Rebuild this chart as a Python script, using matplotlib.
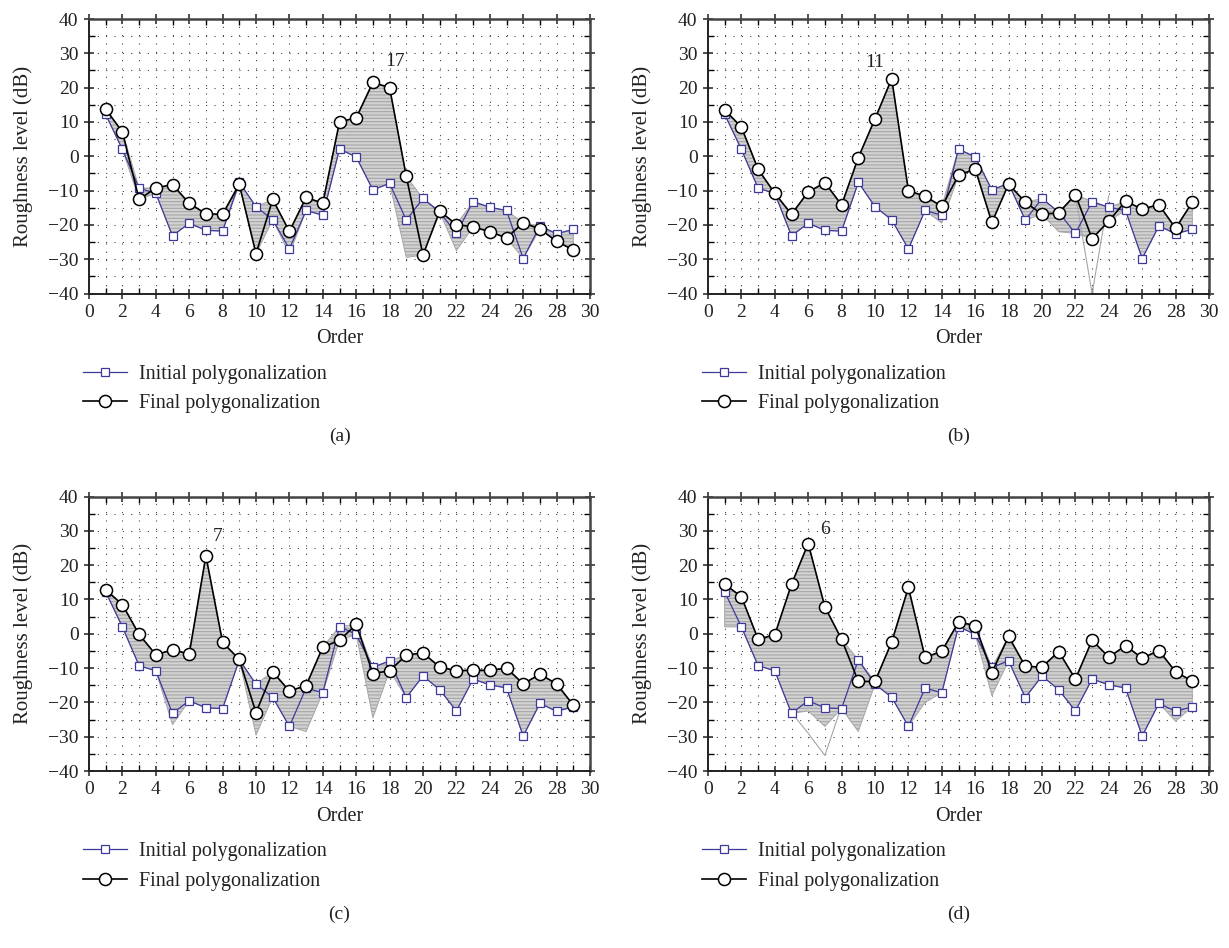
import numpy as np
import matplotlib
matplotlib.use("Agg")
import matplotlib.pyplot as plt
from matplotlib.ticker import MultipleLocator

plt.rcParams['font.family'] = ['Liberation Serif', 'DejaVu Serif']
plt.rcParams['hatch.linewidth'] = 0.8

# Harmonic order axis
order = np.arange(1, 30)

# Roughness levels (dB) of the initial polygonalization (same start for all cases)
initial = [12.2, 2.0, -9.3, -10.8, -23.2, -19.5, -21.6, -21.8, -7.6, -14.7,
           -18.5, -27.0, -15.8, -17.2, 2.1, -0.2, -9.8, -7.9, -18.6, -12.3,
           -16.3, -22.5, -13.2, -14.9, -15.8, -29.8, -20.3, -22.6, -21.3]

# Final polygonalization for each case
final_a = [13.7, 7.1, -12.6, -9.2, -8.3, -13.7, -16.8, -16.9, -8.2, -28.4,
           -12.6, -21.9, -12.0, -13.7, 10.0, 11.2, 21.5, 20.0, -5.9, -28.8,
           -16.0, -19.9, -20.6, -22.0, -23.8, -19.4, -21.2, -24.8, -27.3]
final_b = [13.5, 8.5, -3.8, -10.8, -16.9, -10.4, -7.7, -14.2, -0.4, 10.9,
           22.6, -10.0, -11.7, -14.6, -5.6, -3.7, -19.3, -8.1, -13.4, -16.9,
           -16.5, -11.2, -24.0, -18.9, -13.1, -15.4, -14.1, -21.0, -13.4]
final_c = [12.8, 8.5, -0.2, -6.1, -4.7, -5.9, 22.7, -2.5, -7.5, -23.0,
           -11.1, -16.7, -15.1, -3.9, -1.9, 2.7, -11.6, -10.8, -6.2, -5.6,
           -9.7, -10.8, -10.6, -10.7, -10.0, -14.6, -11.8, -14.6, -20.8]
final_d = [14.4, 10.8, -1.6, -0.3, 14.4, 26.3, 7.8, -1.6, -13.9, -13.9,
           -2.4, 13.5, -6.9, -5.1, 3.4, 2.4, -11.3, -0.8, -9.5, -9.7,
           -5.2, -13.2, -1.9, -6.8, -3.5, -7.1, -4.9, -11.1, -13.8]

# Lowest levels reached by the intermediate iterations where they leave
# the initial/final range: (order, level)
dips_a = [(12, -28.5), (19, -29.5), (22, -27.5)]
dips_b = [(14, -19.5), (21, -22.0)]
dips_c = [(5, -26.5), (10, -29.5), (13, -28.5), (17, -24.5)]
dips_d = [(1, 2.0), (6, -22.5), (7, -27.0), (9, -28.5), (13, -20.0),
          (17, -18.0), (28, -25.5)]

# Single stray iterations drawn as thin lines: (order, level) points
stray_a = []
stray_b = [[(22, -11.2), (23, -40.0), (24, -11.5)]]
stray_c = []
stray_d = [[(5, -23.0), (6, -29.0), (7, -35.5), (8, -21.0)]]

# Iteration counts written above each peak: (text, order, level)
note_a = ("17", 18.3, 27.5)
note_b = ("11", 10.0, 27.3)
note_c = ("7", 7.7, 28.2)
note_d = ("6", 7.0, 30.5)

panel_tags = ["(a)", "(b)", "(c)", "(d)"]

W, H = 1229, 948
fig = plt.figure(figsize=(W / 100, H / 100), dpi=100)

ax_w, ax_h = 501, 274.5
lefts = [89, 708]
tops = [19, 496.5]

blue = '#3d3a9c'
band_face = '#d2d2d2'
band_line = '#a6a6a6'

panels = [
    (final_a, dips_a, stray_a, note_a),
    (final_b, dips_b, stray_b, note_b),
    (final_c, dips_c, stray_c, note_c),
    (final_d, dips_d, stray_d, note_d),
]

for k, (final, dips, strays, note) in enumerate(panels):
    row, col = divmod(k, 2)
    l, t = lefts[col], tops[row]
    ax = fig.add_axes([l / W, 1 - (t + ax_h) / H, ax_w / W, ax_h / H])

    init_arr = np.array(initial)
    fin_arr = np.array(final)
    lo = np.minimum(init_arr, fin_arr)
    hi = np.maximum(init_arr, fin_arr)
    for o, v in dips:
        lo[o - 1] = min(lo[o - 1], v)

    # band swept by the intermediate iterations
    ax.fill_between(order, lo, hi, facecolor=band_face, edgecolor=band_line,
                    hatch='-----', lw=0, zorder=1)
    ax.fill_between(order, lo, hi, facecolor='none', edgecolor=band_line,
                    lw=0.7, zorder=1.2)
    for seg in strays:
        xs, ys = zip(*seg)
        ax.plot(xs, ys, color=band_line, lw=0.8, zorder=1.5)

    ax.plot(order, initial, color=blue, lw=0.9, marker='s', ms=6.4,
            mfc='white', mec=blue, mew=0.9, zorder=2,
            label='Initial polygonalization')
    ax.plot(order, final, color='black', lw=1.2, marker='o', ms=8.7,
            mfc='white', mec='black', mew=1.1, zorder=3,
            label='Final polygonalization')

    txt, tx, ty = note
    ax.text(tx, ty, txt, ha='center', va='center', fontsize=14, color='#222222')

    ax.set_xlim(0, 30)
    ax.set_ylim(-40, 40)
    ax.xaxis.set_major_locator(MultipleLocator(2))
    ax.xaxis.set_minor_locator(MultipleLocator(1))
    ax.yaxis.set_major_locator(MultipleLocator(10))
    ax.yaxis.set_minor_locator(MultipleLocator(5))
    ax.tick_params(which='major', direction='inout', length=7, width=1.1,
                   top=True, right=True, labelsize=14, colors='#222222',
                   pad=4)
    ax.tick_params(which='minor', direction='in', length=4, width=1.0,
                   top=True, right=True)
    ax.grid(which='both', color='#333333', lw=0.75, linestyle=(0, (1, 7)))
    ax.set_axisbelow(True)
    for side in ['left', 'bottom']:
        ax.spines[side].set_linewidth(1.4)
        ax.spines[side].set_color('#222222')
    for side in ['top', 'right']:
        ax.spines[side].set_linewidth(1.8)
        ax.spines[side].set_color('#444444')

    ax.set_xlabel('Order', fontsize=14.5, color='#222222', labelpad=6)
    ax.set_ylabel('Roughness level (dB)', fontsize=15, color='#222222',
                  labelpad=11)

    ax.legend(loc='upper left', bbox_to_anchor=(-0.012, -0.26),
              frameon=False, fontsize=14.5, handlelength=2.2,
              handletextpad=0.6, labelspacing=0.5, borderaxespad=0,
              borderpad=0, labelcolor='#222222')

    ax.text(0.5, -0.522, panel_tags[k], transform=ax.transAxes,
            ha='center', va='center', fontsize=14, color='#222222')

fig.savefig('out.png', dpi=100)
